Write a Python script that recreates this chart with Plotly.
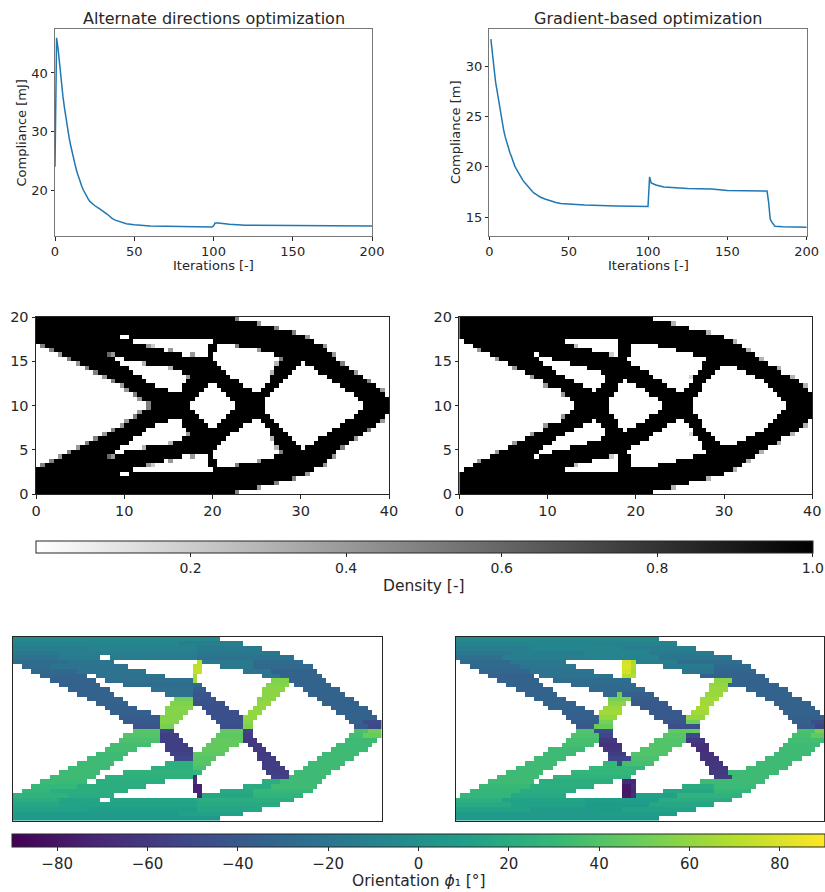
import plotly.graph_objects as go

W, H = 825, 892

# ---- convergence curves -------------------------------------------------
iters_ad = [0,1,2,3,4,5,6,7,8,9,10,11,12,13,14,15,16,17,18,19,20,21,22,24,25,27,28,30,33,35,36,38,40,42,45,50,55,60,70,80,99,100,101,103,110,120,150,175,200]
comp_ad = [24,46,44,41,38.5,36,34,32,30.3,28.8,27.5,26.2,25,24,23,22.1,21.3,20.6,20,19.4,18.9,18.5,18.1,17.6,17.4,17.05,16.9,16.5,15.9,15.4,15.2,14.9,14.7,14.5,14.3,14.1,14,13.9,13.85,13.8,13.75,13.9,14.4,14.4,14.2,14.05,14,13.95,13.9]
iters_gb = [1,2,3,4,5,6,7,8,9,10,11,12,13,14,15,16,17,18,19,20,21,22,23,24,25,26,27,28,30,32,35,37,40,42,45,50,60,80,100,100.5,101,102,105,110,125,140,150,175,176,177,178,180,185,200]
comp_gb = [32.7,31.0,29.8,28.4,27.4,26.3,25.4,24.5,23.7,23,22.4,21.9,21.4,21,20.5,20.1,19.8,19.5,19.2,19,18.7,18.5,18.3,18.1,17.9,17.7,17.55,17.4,17.2,17,16.8,16.7,16.5,16.45,16.35,16.3,16.2,16.1,16.05,17.5,19,18.4,18.2,18,17.85,17.8,17.65,17.6,16.5,14.8,14.5,14.1,14.05,14]

# ---- void (white) spans per row of the upper half, x in length units, ----
# ---- row 0 is the top row, each row is 0.5 units high; lower half mirrors ----
voids_ad = [
    [(22.5,40)], [(25,40)], [(27,40)], [(29,40)],
    [(9.5,10.5),(30.5,40)],
    [(11,20),(31.5,40)],
    [(0,1),(12.5,19.5),(20.5,22.5),(32.5,40)],
    [(0,2),(14.5,19.5),(20.5,25),(33,40)],
    [(0,3),(8,9),(16.5,19.5),(20,27),(33.5,40)],
    [(0,4),(9,10),(20,28),(34,40)],
    [(0,5),(9.5,12),(20.5,27.5),(30,30.5),(34.5,40)],
    [(0,6),(10.5,15),(21,27),(29.5,31.5),(35.5,40)],
    [(0,7),(11,16.5),(21.5,27),(29,32),(36,40)],
    [(0,8),(12,17.5),(22,26.5),(28.5,33),(37,40)],
    [(0,9),(12.5,17),(23,26.5),(28,33.5),(37.5,40)],
    [(0,10),(13.5,16.5),(19.5,20.5),(23.5,26),(27.5,34.5),(38.5,40)],
    [(0,10.5),(15,16.5),(19,21),(24.5,25.5),(27,35),(39,40)],
    [(0,11.5),(18.5,21.5),(26.5,36),(39.5,40)],
    [(0,12),(18,22),(26,36.5)],
    [(0,13),(17.5,22.5),(26,37)],
]
voids_gb = [
    [(22,40)], [(24,40)], [(26,40)], [(28,40)], [(30,40)],
    [(0,.5),(12,18),(31,40)],
    [(0,1.5),(13,18),(19.5,22.5),(32,40)],
    [(0,2.5),(15,18),(19.5,24.5),(32.5,40)],
    [(0,3.5),(8.5,9),(17,18),(19.5,26.5),(33.5,40)],
    [(0,4.5),(9,10.5),(19,28),(34,40)],
    [(0,5.5),(9.5,12.5),(19.5,27.5),(35,40)],
    [(0,6.5),(10.5,14.5),(20.5,27.5),(29.5,31.5),(36,40)],
    [(0,7.5),(11,16),(21.5,27),(29,32.5),(36.5,40)],
    [(0,8.5),(12,16.5),(22,26.5),(28.5,33.5),(37.5,40)],
    [(0,9.5),(13,16.5),(18.5,19),(23,26.5),(28,34.5),(38.5,40)],
    [(0,10),(14,16),(18,20),(23.5,26),(27.5,35),(39,40)],
    [(0,11.5),(15,15.5),(18,21),(24.5,25.5),(27.5,35.5),(39.5,40)],
    [(0,12),(17.5,21.5),(27,36)],
    [(0,12.5),(17,22.5),(26.5,36.5)],
    [(0,13),(17,23),(26.5,37)],
]

# ---- grey edge cells of the density maps: (row, cell left x, density) ------
greys_ad = [
    (0,22.5,.5),(1,25,.4),(2,27,.5),(3,29,.5),(4,30.5,.4),(6,32.5,.4),(8,33.5,.4),(10,34.5,.5),(12,36,.4),(14,37.5,.5),(16,39,.4),
    (6,.5,.5),(7,1.5,.5),(8,2.5,.4),(9,3.5,.5),(10,4.5,.4),(11,5.5,.5),(12,6.5,.5),(13,7.5,.4),(14,8.5,.5),(15,9.5,.4),(16,10,.4),(17,11,.5),(18,11.5,.4),(19,12.5,.5),
    (6,12.5,.4),(6,13,.2),(7,15,.4),(8,17.5,.4),(8,8,.6),(8,8.5,.4),(6,22.5,.5),(7,25,.4),(9,27.5,.5),(10,27,.3),(12,26.5,.3),
    (10,12,.3),(11,15,.3),(13,17,.4),
]
greys_gb = [
    (1,24,.3),(3,28,.3),(5,31,.3),(7,32.5,.3),(9,34,.3),(11,36,.3),(13,37.5,.3),(15,39,.3),
    (7,2,.4),(9,4,.4),(11,6,.4),(13,8,.4),(15,9.5,.4),(17,11.5,.4),
    (6,13,.25),(8,17,.2),(13,26,.15),
]

# ---- orientation per row: (x_end, angle) runs over the upper half ----------
angles_ad = [
    [(40,-6)],
    [(18,-8),(25,-12)],
    [(8,-13),(20,-10),(27,-16)],
    [(5,-16),(20,-13),(29,-18)],
    [(5,-22),(20,-15),(30.5,-22)],
    [(6,-26),(11,-20),(20.5,72),(26,-16),(31.5,-27)],
    [(4,-28),(12.5,-22),(20.5,72),(26,-18),(32.5,-30)],
    [(7,-30),(14.5,-22),(20.5,74),(28,-20),(33,-33)],
    [(8.5,-32),(16.5,-22),(20,66),(29,-22),(33.5,-33)],
    [(9,-33),(19.5,-24),(20,66),(30,55),(34,-33)],
    [(9.5,-33),(19.5,-26),(20.5,-30),(30,56),(34.5,-33)],
    [(10.5,-33),(19.5,-24),(21,-38),(29.5,58),(35.5,-33)],
    [(11,-33),(19.5,-24),(21.5,-42),(29,58),(36,-33)],
    [(12,-33),(19.5,50),(22,-42),(28.5,58),(37,-33)],
    [(12.5,-33),(19.5,55),(23,-44),(28,60),(37.5,-33)],
    [(13.5,-35),(19.5,56),(23.5,-46),(27.5,60),(38.5,-33)],
    [(15,-35),(19,56),(24.5,-46),(27,60),(39,-33)],
    [(16,-38),(18.5,56),(25,-46),(26.5,60),(39.5,-33)],
    [(16,-40),(18,56),(25,-44),(26,58),(38,-35),(40,-48)],
    [(16,-42),(17.5,52),(25,-46),(26,55),(38.5,-38),(40,-50)],
]
angles_gb = [
    [(40,-6)],
    [(15,-8),(24,-9)],
    [(8,-14),(18,-8),(26,-13)],
    [(6,-18),(14,-12),(21,-8),(28,-16)],
    [(5,-24),(14,-14),(22,-10),(30,-20)],
    [(6,-28),(12,-18),(19,78),(19.5,66),(24,-12),(31,-26)],
    [(7,-29),(13,-20),(19,80),(19.5,68),(28,-16),(32,-29)],
    [(8,-31),(15,-22),(19,78),(19.5,66),(28,-20),(32.5,-32)],
    [(8.5,-33),(17,-22),(19.5,70),(33.5,-33)],
    [(9,-33),(19,-26),(30,58),(34,-33)],
    [(9.5,-33),(19.5,-28),(29.5,60),(35,-33)],
    [(10.5,-33),(20.5,-30),(29.5,62),(36,-33)],
    [(11,-33),(17.5,-30),(18,50),(21.5,-36),(29,62),(36.5,-33)],
    [(12,-33),(19,52),(22,-38),(28.5,64),(37.5,-33)],
    [(13,-33),(18.5,58),(23,-40),(28,64),(38.5,-33)],
    [(14,-33),(18,62),(23.5,-40),(27.5,66),(39,-33)],
    [(15,-35),(18,64),(24.5,-40),(27.5,64),(39.5,-33)],
    [(15.5,-36),(17.5,60),(25,-40),(27,60),(40,-35)],
    [(15.5,-38),(17,52),(25,-42),(26.5,50),(38.5,-36),(40,-46)],
    [(15,-40),(17,48),(25.5,-46),(26.5,-48),(39,-38),(40,-52)],
]

density_ticks = [0.2, 0.4, 0.6, 0.8, 1.0]
angle_ticks = [-80, -60, -40, -20, 0, 20, 40, 60, 80]
x_ticks_line = [0, 50, 100, 150, 200]
x_ticks_map = [0, 10, 20, 30, 40]
y_ticks_map = [0, 5, 10, 15, 20]
y_ticks_ad = [20, 30, 40]
y_ticks_gb = [15, 20, 25, 30]

NCOL = 80
FONT = "DejaVu Sans"
INK = "#262626"


def solid(voids, col):
    xc = (col + 0.5) * 0.5
    return not any(a < xc < b for a, b in voids)


def density_rows(voids, greys):
    upper = [[1.0 if solid(r, c) else 0.0 for c in range(NCOL)] for r in voids]
    for row, x, val in greys:
        upper[row][int(round(x * 2))] = val
    # heatmap rows run from y = 0 upward
    return upper + list(reversed(upper))


def angle_at(runs, col):
    xc = (col + 0.5) * 0.5
    for end, ang in runs:
        if xc < end:
            return ang
    return runs[-1][1]


def angle_rows(voids, angles):
    upper = [[angle_at(a, c) if solid(v, c) else None for c in range(NCOL)]
             for v, a in zip(voids, angles)]
    lower = [[None if x is None else -x for x in row] for row in upper]
    return lower + list(reversed(upper))


def dom_x(a, b):
    return [a / W, b / W]


def dom_y(top, bottom):
    return [1 - bottom / H, 1 - top / H]


fig = go.Figure()

# panels: name, x0, x1, y0, y1 in page pixels
panels = {
    "": (55, 372, 29, 236),
    "2": (489.3, 806.7, 29.3, 235.5),
    "3": (36, 389, 317, 494),
    "4": (459.3, 812.3, 317, 494),
    "5": (12.7, 381.7, 636.7, 820.7),
    "6": (455.7, 824.3, 636.7, 820.7),
}

LINE_BLUE = "#1f77b4"
fig.add_trace(go.Scatter(x=iters_ad, y=comp_ad, mode="lines", line=dict(color=LINE_BLUE, width=1.5), xaxis="x", yaxis="y", showlegend=False))
fig.add_trace(go.Scatter(x=iters_gb, y=comp_gb, mode="lines", line=dict(color=LINE_BLUE, width=1.5), xaxis="x2", yaxis="y2", showlegend=False))

grey = [[0, "#ffffff"], [1, "#000000"]]
fig.add_trace(go.Heatmap(
    z=density_rows(voids_ad, greys_ad), x0=0.25, dx=0.5, y0=0.25, dy=0.5, xaxis="x3", yaxis="y3",
    colorscale=grey, zmin=0.001, zmax=1, hoverinfo="skip",
    colorbar=dict(orientation="h", x=35.8 / W, xanchor="left", y=1 - 541 / H, yanchor="top",
                  len=776.8 / W, thickness=12, xpad=0, ypad=0, outlinewidth=1, outlinecolor=INK,
                  tickvals=density_ticks, ticktext=["0.2", "0.4", "0.6", "0.8", "1.0"],
                  ticks="outside", ticklen=3.5, tickcolor=INK,
                  tickfont=dict(family=FONT, size=14, color=INK))))
fig.add_trace(go.Heatmap(
    z=density_rows(voids_gb, greys_gb), x0=0.25, dx=0.5, y0=0.25, dy=0.5, xaxis="x4", yaxis="y4",
    colorscale=grey, zmin=0.001, zmax=1, hoverinfo="skip", showscale=False))

fig.add_trace(go.Heatmap(
    z=angle_rows(voids_ad, angles_ad), x0=0.25, dx=0.5, y0=0.25, dy=0.5, xaxis="x5", yaxis="y5",
    colorscale="Viridis", zmin=-90, zmax=90, hoverinfo="skip",
    colorbar=dict(orientation="h", x=12 / W, xanchor="left", y=1 - 834 / H, yanchor="top",
                  len=813 / W, thickness=13, xpad=0, ypad=0, outlinewidth=1, outlinecolor=INK,
                  tickvals=angle_ticks, ticktext=["\u221280", "\u221260", "\u221240", "\u221220", "0", "20", "40", "60", "80"],
                  ticks="outside", ticklen=3.5, tickcolor=INK,
                  tickfont=dict(family=FONT, size=15, color=INK))))
fig.add_trace(go.Heatmap(
    z=angle_rows(voids_gb, angles_gb), x0=0.25, dx=0.5, y0=0.25, dy=0.5, xaxis="x6", yaxis="y6",
    colorscale="Viridis", zmin=-90, zmax=90, hoverinfo="skip", showscale=False))

layout = dict(width=W, height=H, autosize=False, margin=dict(l=0, r=0, t=0, b=0, autoexpand=False),
              paper_bgcolor="white", plot_bgcolor="white", showlegend=False,
              font=dict(family=FONT, color=INK))


def axis_common(size, frame):
    return dict(showgrid=False, zeroline=False, showline=True, mirror=True, linecolor=frame, linewidth=1,
                ticks="outside", ticklen=3.5, tickcolor=INK, tickfont=dict(family=FONT, size=size, color=INK))


# line panels
for key, yr, yt in (("", [12.2, 47.5], y_ticks_ad), ("2", [13.17, 33.68], y_ticks_gb)):
    x0, x1, y0, y1 = panels[key]
    layout["xaxis" + key] = dict(axis_common(13, "#777777"), domain=dom_x(x0, x1), range=[0, 200], tickvals=x_ticks_line,
                                 anchor="y" + key)
    layout["yaxis" + key] = dict(axis_common(13, "#777777"), domain=dom_y(y0, y1), range=yr, tickvals=yt,
                                 anchor="x" + key)

# density panels
for key in ("3", "4"):
    x0, x1, y0, y1 = panels[key]
    layout["xaxis" + key] = dict(axis_common(14.5, INK), domain=dom_x(x0, x1), range=[0, 40], tickvals=x_ticks_map, anchor="y" + key)
    layout["yaxis" + key] = dict(axis_common(14.5, INK), domain=dom_y(y0, y1), range=[0, 20], tickvals=y_ticks_map, anchor="x" + key)

# orientation panels
for key in ("5", "6"):
    x0, x1, y0, y1 = panels[key]
    layout["xaxis" + key] = dict(domain=dom_x(x0, x1), range=[0, 40], showgrid=False, zeroline=False, showticklabels=False,
                                 ticks="", showline=True, mirror=True, linecolor=INK, linewidth=1, anchor="y" + key)
    layout["yaxis" + key] = dict(domain=dom_y(y0, y1), range=[0, 20], showgrid=False, zeroline=False, showticklabels=False,
                                 ticks="", showline=True, mirror=True, linecolor=INK, linewidth=1, anchor="x" + key)


def label(text, px, py, size, angle=0):
    return dict(text=text, x=px / W, y=1 - py / H, xref="paper", yref="paper", showarrow=False, textangle=angle,
                font=dict(family=FONT, size=size, color=INK), xanchor="center", yanchor="middle")


layout["annotations"] = [
    label("Alternate directions optimization", 213.5, 18.5, 16),
    label("Gradient-based optimization", 648, 18.5, 16),
    label("Iterations [-]", 213.5, 265.5, 13),
    label("Iterations [-]", 648, 265.5, 13),
    label("Compliance [mJ]", 20.5, 133, 13, -90),
    label("Compliance [m]", 455, 133, 13, -90),
    label("Density [-]", 424, 586, 15.5),
    label("Orientation <i>\u03d5</i>\u2081 [\u00b0]", 419, 881, 15.5),
]

fig.update_layout(**layout)
fig.write_html("out.html", config=dict(displayModeBar=False), post_script="document.body.style.margin='0';")
